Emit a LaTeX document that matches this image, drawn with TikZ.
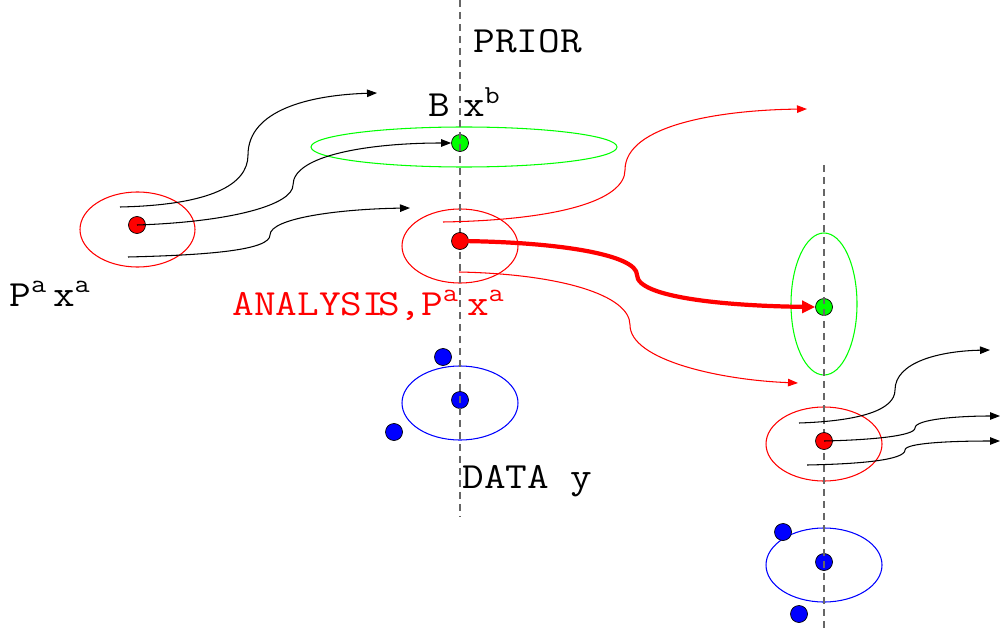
\documentclass[tikz,border=0pt]{standalone}
\usepackage{fontspec}
\newfontfamily\courfont{Latin Modern Mono}[FakeStretch=1.14]
\usetikzlibrary{arrows.meta}
\begin{document}
\begin{tikzpicture}[x=0.02cm,y=-0.02cm,
  lbl/.style={font=\courfont\fontsize{21}{25}\selectfont, anchor=base west, inner sep=0pt},
  dot/.style={circle, draw=black, line width=0.4pt, minimum size=0.34cm, inner sep=0pt},
  ell/.style={line width=0.6pt},
  guide/.style={draw=black!60, line width=0.8pt, dash pattern=on 0.14cm off 0.1cm},
  flow/.style={line width=0.6pt, -{Triangle[length=0.2cm,width=0.15cm]}},
  bigflow/.style={line width=2.4pt, red, -{Triangle[length=0.26cm,width=0.24cm]}}
]
\path[use as bounding box] (0,0) rectangle (1000,628);

% ellipses
\draw[ell, red]   (137.5,229.5) ellipse [x radius=57.5, y radius=37.5];
\draw[ell, green] (464,147) ellipse [x radius=153, y radius=20];
\draw[ell, red]   (460,246) ellipse [x radius=58, y radius=37];
\draw[ell, blue]  (460,403) ellipse [x radius=58, y radius=37];
\draw[ell, green] (824,304) ellipse [x radius=33, y radius=71];
\draw[ell, red]   (824,444) ellipse [x radius=58, y radius=37];
\draw[ell, blue]  (824,565) ellipse [x radius=58, y radius=37];

% green and blue dots
\node[dot, fill=green] (gb) at (460,143) {};
\node[dot, fill=blue]  (yb) at (460,400) {};
\node[dot, fill=blue]  (y1) at (443,357) {};
\node[dot, fill=blue]  (y2) at (394,432) {};
\node[dot, fill=green] (gf) at (824,307) {};
\node[dot, fill=blue]  (yf) at (824,562) {};
\node[dot, fill=blue]  (y3) at (783,532) {};
\node[dot, fill=blue]  (y4) at (799,614) {};

% dashed guide lines
\coordinate (l1t) at (460,0);   \coordinate (l1b) at (460,517);
\coordinate (l2t) at (824,165); \coordinate (l2b) at (824,628);
\draw[guide] (l1t) -- (l1b);
\draw[guide] (l2t) -- (l2b);

% red dots
\node[dot, fill=red] (ra) at (137,225) {};
\node[dot, fill=red] (rb) at (460,241) {};
\node[dot, fill=red] (rc) at (824,441) {};

% left black flows
\coordinate (s1) at (120,207); \coordinate (e1) at (377,93);
\draw[flow] (s1) .. controls (210,205) and (248,185) .. (248,155)
                 .. controls (248,110) and (310,95) .. (e1);
\draw[flow] (ra.center) .. controls (230,222) and (293,205) .. (293,185)
                 .. controls (293,155) and (370,143) .. (gb.west);
\coordinate (s3) at (128,257); \coordinate (e3) at (410,208);
\draw[flow] (s3) .. controls (210,255) and (270,250) .. (270,235)
                 .. controls (270,218) and (340,209) .. (e3);

% red flows
\coordinate (s4) at (443,222); \coordinate (e4) at (807,109);
\draw[flow, red] (s4) .. controls (560,220) and (625,200) .. (625,170)
                 .. controls (625,125) and (720,110) .. (e4);
\draw[bigflow] (rb.center) .. controls (560,242) and (637,255) .. (637,275)
                 .. controls (637,298) and (730,306) .. (gf.west);
\coordinate (s6) at (459,272); \coordinate (e6) at (798,383);
\draw[flow, red] (s6) .. controls (560,274) and (630,295) .. (630,325)
                 .. controls (630,360) and (720,380) .. (e6);

% right black flows
\coordinate (s7) at (799,423); \coordinate (e7) at (990,350);
\draw[flow] (s7) .. controls (860,421) and (895,410) .. (895,390)
                 .. controls (895,362) and (940,351) .. (e7);
\coordinate (e8) at (1000,416);
\draw[flow] (rc.center) .. controls (870,440) and (915,436) .. (915,428)
                 .. controls (915,419) and (960,416) .. (e8);
\coordinate (s9) at (807,465); \coordinate (e9) at (1000,441);
\draw[flow] (s9) .. controls (860,464) and (905,460) .. (905,450)
                 .. controls (905,443) and (950,441) .. (e9);

% labels
\node[lbl] (prior) at (473,53) {PRIOR};
\node[lbl] (bxb) at (428,117) {B\kern0.26cm x\textsuperscript{b}};
\node[lbl] (pxa) at (9,306) {P\textsuperscript{a}\kern0.12cm x\textsuperscript{a}};
\node[lbl, text=red] (ana) at (232,315) {ANALYSI\kern-0.12cm S,P\textsuperscript{a}\kern0.16cm x\textsuperscript{a}};
\node[lbl] (data) at (462,488) {DATA y};
\end{tikzpicture}
\end{document}
